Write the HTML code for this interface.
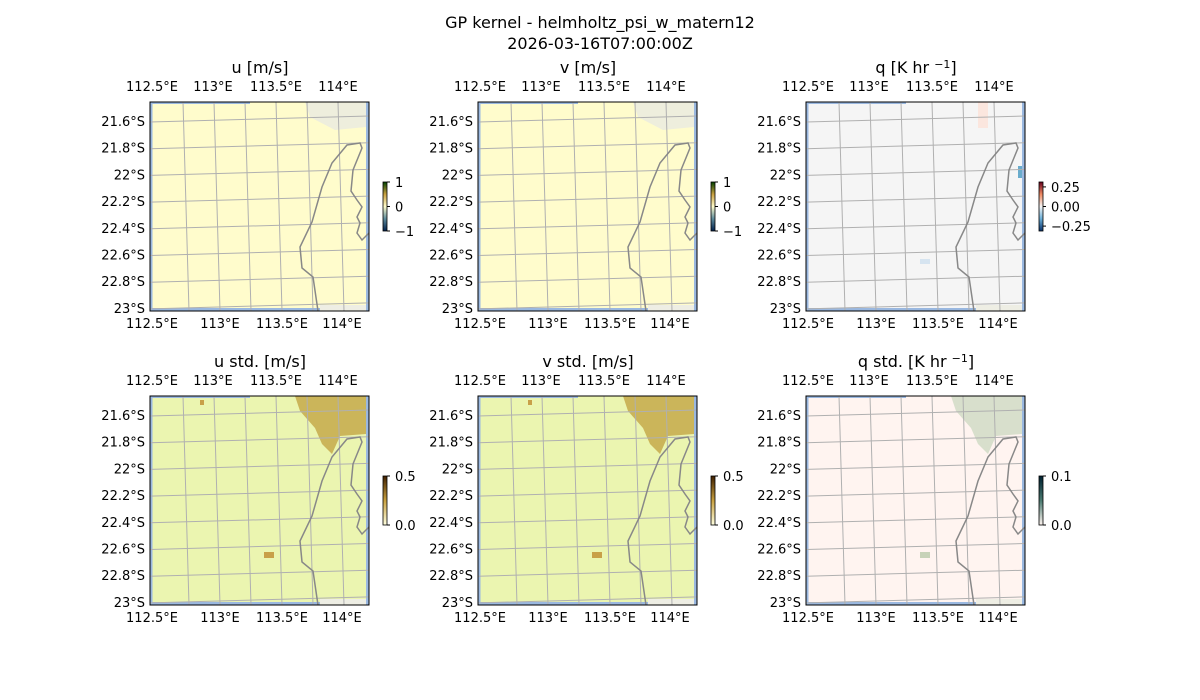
<!DOCTYPE html>
<html><head><meta charset="utf-8"><style>
body{margin:0;background:#fff;}
svg{display:block;font-family:"DejaVu Sans","Liberation Sans",sans-serif;}
</style></head><body>
<svg id="s" width="1200" height="700" xmlns="http://www.w3.org/2000/svg">
<text x="600" y="28" font-size="16" text-anchor="middle">GP kernel - helmholtz_psi_w_matern12</text>
<text x="600" y="49" font-size="16" text-anchor="middle">2026-03-16T07:00:00Z</text>
</svg>
<script>
const s=document.getElementById('s');let h='';
const coast="M168,209 L163,175 L152,166 L150,145 L162,120 L172,85 L182,61 L197,43 L210,41 L212,46 L203,68 L201,89 L207,98 L212,105 L207,115 L210,121 L207,131 L212,138 L219,131";
const panels=[
 [150,102,'u [m/s]','#fffccc','u'],[478,102,'v [m/s]','#fffccc','v'],[806,102,'q [K hr <tspan font-size="11" dy="-5">−1</tspan><tspan dy="5">]</tspan>','#f5f5f5','q'],
 [150,396,'u std. [m/s]','#ebf5b0','us'],[478,396,'v std. [m/s]','#ebf5b0','vs'],[806,396,'q std. [K hr <tspan font-size="11" dy="-5">−1</tspan><tspan dy="5">]</tspan>','#fff4f0','qs']];
let id=0;
for(const [x,y,t,c,k] of panels){
 id++;
 h+=`<text x="${x+110}" y="${y-29}" font-size="16" text-anchor="middle">${t}</text>`;
 h+=`<clipPath id="c${id}"><rect x="${x}" y="${y}" width="219" height="209"/></clipPath><g clip-path="url(#c${id})">`;
 h+=`<rect x="${x}" y="${y}" width="219" height="209" fill="${c}"/>`;
 h+=`<rect x="${x}" y="${y}" width="100" height="2" fill="#9ab8e0"/><rect x="${x}" y="${y}" width="2.5" height="209" fill="#9ab8e0"/><rect x="${x+216}" y="${y}" width="3" height="209" fill="#9ab8e0"/><rect x="${x}" y="${y+206}" width="170" height="3" fill="#9ab8e0"/><rect x="${x+170}" y="${y+203}" width="46" height="6" fill="#eeeee4"/>`;
 if(k=='u'||k=='v') h+=`<path d="M${x+155},${y} L${x+216},${y} L${x+216},${y+25} L${x+185},${y+28} L${x+160},${y+15}Z" fill="#eeeedd"/>`;
 if(k=='us'||k=='vs') h+=`<path d="M${x+145},${y} L${x+216},${y} L${x+216},${y+38} L${x+190},${y+40} L${x+182},${y+58} L${x+172},${y+48} L${x+165},${y+32} L${x+150},${y+15}Z" fill="#cbb55a"/><rect x="${x+114}" y="${y+156}" width="10" height="6" fill="#c8a048"/><rect x="${x+50}" y="${y+4}" width="4" height="5" fill="#c8a048"/>`;
 if(k=='qs') h+=`<path d="M${x+145},${y} L${x+216},${y} L${x+216},${y+38} L${x+190},${y+40} L${x+182},${y+58} L${x+172},${y+48} L${x+165},${y+32} L${x+150},${y+15}Z" fill="#d8dfcc"/><rect x="${x+114}" y="${y+156}" width="10" height="6" fill="#c7d2b8"/>`;
 if(k=='q') h+=`<rect x="${x+172}" y="${y}" width="10" height="26" fill="#fbe6de"/><rect x="${x+212}" y="${y+64}" width="4" height="12" fill="#6aaccc"/><rect x="${x+114}" y="${y+157}" width="10" height="5" fill="#d6e4f0"/>`;
 for(let i=0;i<7;i++){const xt=x+33+i*31,xb=xt+6;h+=`<line x1="${xt}" y1="${y}" x2="${xb}" y2="${y+209}" stroke="#b0b0b0"/>`;}
 for(let i=0;i<8;i++){const yl=y+20+i*26.7;h+=`<line x1="${x}" y1="${yl}" x2="${x+219}" y2="${yl-6}" stroke="#b0b0b0"/>`;}
 h+=`<path d="${coast}" transform="translate(${x},${y})" fill="none" stroke="#888" stroke-width="1.5"/></g>`;
 h+=`<rect x="${x}" y="${y}" width="219" height="209" fill="none" stroke="#000"/>`;
 const top=[[2,'112.5°E'],[63,'113°E'],[126,'113.5°E'],[188,'114°E']],bot=[[2,'112.5°E'],[70,'113°E'],[132,'113.5°E'],[192,'114°E']];
 for(const [dx,l] of top)h+=`<text x="${x+dx}" y="${y-11}" font-size="13" text-anchor="middle">${l}</text>`;
 for(const [dx,l] of bot)h+=`<text x="${x+dx}" y="${y+226}" font-size="13" text-anchor="middle">${l}</text>`;
 const lat=['21.6°S','21.8°S','22°S','22.2°S','22.4°S','22.6°S','22.8°S','23°S'];
 lat.forEach((l,i)=>h+=`<text x="${x-5}" y="${y+24+i*26.7}" font-size="13" text-anchor="end">${l}</text>`);
}
function cb(x,y,stops,ticks){
 id++;h+=`<linearGradient id="g${id}" x1="0" y1="1" x2="0" y2="0">${stops.map((c,i)=>`<stop offset="${i/(stops.length-1)}" stop-color="${c}"/>`).join('')}</linearGradient>`;
 h+=`<rect x="${x}" y="${y}" width="4" height="49" fill="url(#g${id})" stroke="#000" stroke-width="0.8"/>`;
 for(const [f,l] of ticks){const ty=y+49-f*49;h+=`<line x1="${x+4}" y1="${ty}" x2="${x+7}" y2="${ty}" stroke="#000"/><text x="${x+12}" y="${ty+5}" font-size="13">${l}</text>`;}
}
const div=['#00204c','#5d8a9a','#fffccc','#c8a040','#004000'];
cb(383,182,div,[[1,'1'],[0.5,'0'],[0,'−1']]);
cb(711,182,div,[[1,'1'],[0.5,'0'],[0,'−1']]);
cb(1039,182,['#08306b','#6baed6','#f5f5f5','#ef8a62','#67001f'],[[0.9,'0.25'],[0.5,'0.00'],[0.1,'−0.25']]);
const seq=['#ffffe0','#c8a040','#402000'];
cb(383,476,seq,[[1,'0.5'],[0,'0.0']]);
cb(711,476,seq,[[1,'0.5'],[0,'0.0']]);
cb(1039,476,['#fff4f0','#4a7a70','#002030'],[[1,'0.1'],[0,'0.0']]);
s.innerHTML+=h;
</script>
</body></html>
